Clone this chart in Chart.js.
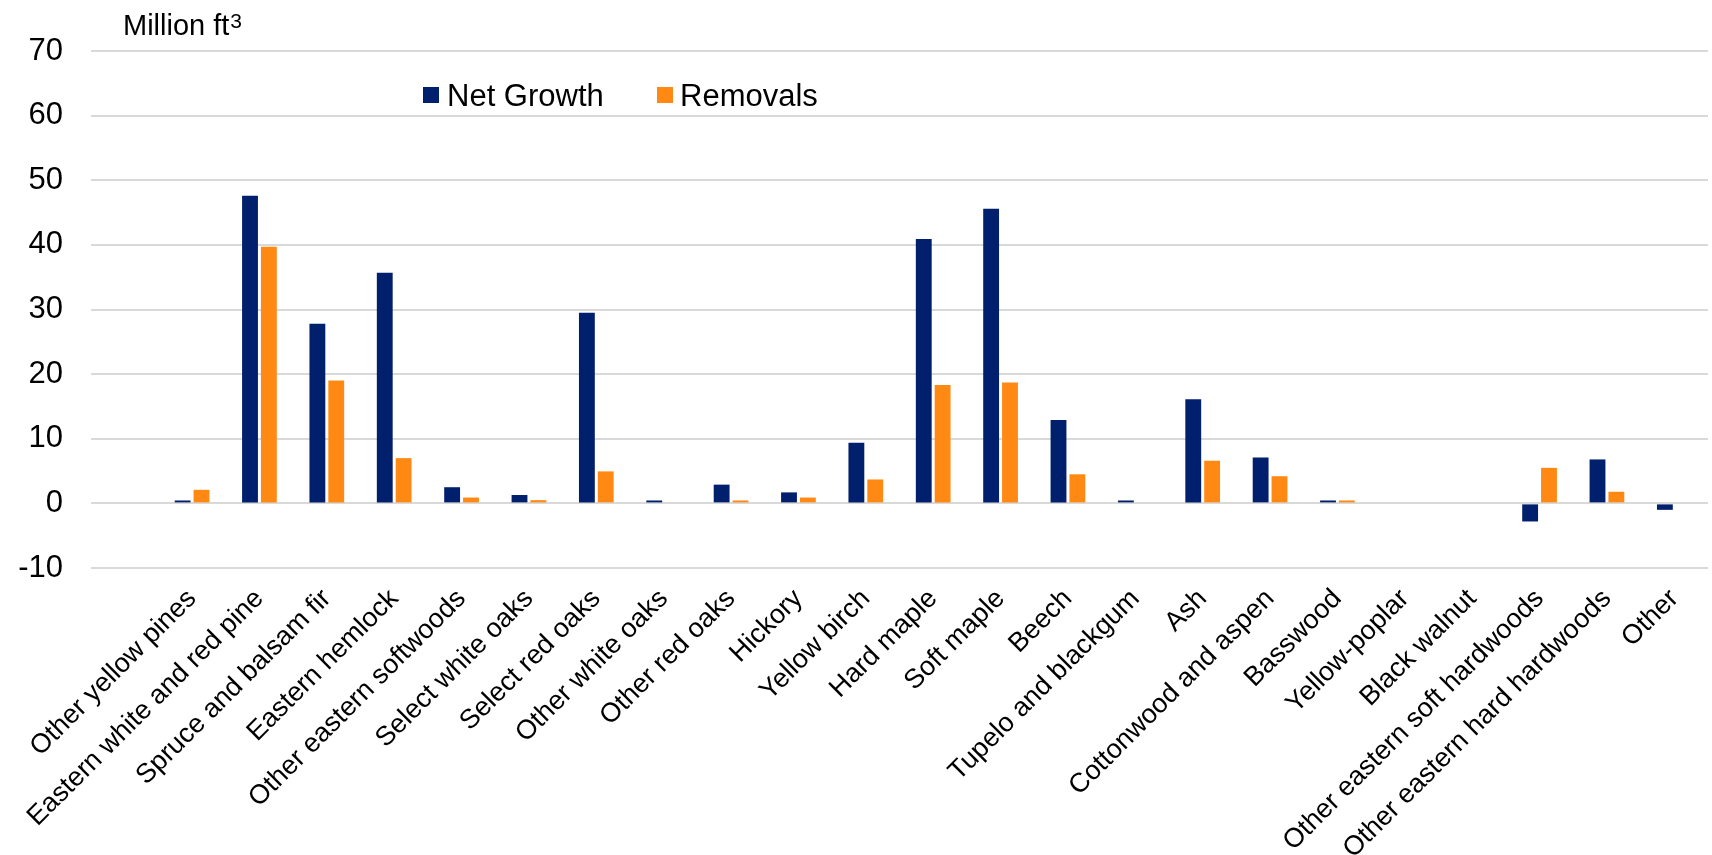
<!DOCTYPE html>
<html>
<head>
<meta charset="utf-8">
<script src="https://cdn.jsdelivr.net/npm/chart.js@4.4.1/dist/chart.umd.min.js"></script>
<style>
  body { margin: 0; background: #fff; }
  #wrap { width: 1712px; height: 855px; }
</style>
</head>
<body>
<div id="wrap"><canvas id="myChart" width="1712" height="855"></canvas></div>
<script>
// first slot is an empty category, as in the original plot
var species = ["", "Other yellow pines", "Eastern white and red pine", "Spruce and balsam fir",
  "Eastern hemlock", "Other eastern softwoods", "Select white oaks", "Select red oaks",
  "Other white oaks", "Other red oaks", "Hickory", "Yellow birch", "Hard maple", "Soft maple",
  "Beech", "Tupelo and blackgum", "Ash", "Cottonwood and aspen", "Basswood", "Yellow-poplar",
  "Black walnut", "Other eastern soft hardwoods", "Other eastern hard hardwoods", "Other"];

var netGrowth = [null, 0.45, 47.6, 27.8, 35.7, 2.5, 1.3, 29.5, 0.45, 2.9, 1.7, 9.4, 40.9, 45.6,
  12.9, 0.45, 16.1, 7.1, 0.45, null, null, -2.8, 6.8, -1.0];
var removals = [null, 2.1, 39.7, 19.0, 7.0, 0.9, 0.5, 4.95, null, 0.45, 0.9, 3.7, 18.3, 18.7,
  4.5, null, 6.6, 4.2, 0.45, null, null, 5.5, 1.8, null];

var yTicks = [-10, 0, 10, 20, 30, 40, 50, 60, 70];
var unitLabel = "Million ft";
var unitPower = "3";

var fontFamily = "'Liberation Sans', Arial, sans-serif";

// unit label and legend drawn on top, like the original
var overlay = {
  id: "overlay",
  afterDraw: function(chart) {
    var c = chart.ctx;
    c.save();
    c.fillStyle = "#000";
    c.textBaseline = "alphabetic";
    c.font = "29px " + fontFamily;
    c.fillText(unitLabel, 123, 35);
    var w = c.measureText(unitLabel).width;
    c.font = "21px " + fontFamily;
    c.fillText(unitPower, 123 + w + 1, 28);

    var items = [[423, 447], [657, 680]];
    chart.data.datasets.forEach(function(ds, i) {
      c.fillStyle = ds.backgroundColor;
      c.fillRect(items[i][0], 87, 16, 16);
      c.fillStyle = "#000";
      c.font = "31px " + fontFamily;
      c.fillText(ds.label, items[i][1], 106);
    });
    c.restore();
  }
};

var ctx = document.getElementById("myChart");
var myChart = new Chart(ctx, {
  type: 'bar',
  data: {
    labels: species,
    datasets: [
      {
        label: "Net Growth",
        data: netGrowth,
        backgroundColor: "#001F6C",
        categoryPercentage: 0.56,
        barPercentage: 0.84
      },
      {
        label: "Removals",
        data: removals,
        backgroundColor: "#FF8912",
        categoryPercentage: 0.56,
        barPercentage: 0.84
      }
    ]
  },
  options: {
    responsive: false,
    animation: false,
    devicePixelRatio: 1,
    layout: { padding: { top: 51, right: 4, left: 0, bottom: 0 } },
    plugins: {
      legend: { display: false },
      title: { display: false },
      tooltip: { enabled: false }
    },
    scales: {
      x: {
        grid: { display: false },
        border: { display: false },
        ticks: {
          autoSkip: false,
          minRotation: 45,
          maxRotation: 45,
          padding: 7,
          color: "#000",
          font: { family: fontFamily, size: 27 }
        },
        afterFit: function(scale) { scale.height = 287; }
      },
      y: {
        min: -10,
        max: 70,
        afterBuildTicks: function(scale) {
          scale.ticks = yTicks.map(function(v) { return { value: v }; });
        },
        grid: { color: "#D9D9D9", lineWidth: 2, drawTicks: false },
        border: { display: false },
        ticks: {
          padding: 28,
          color: "#000",
          font: { family: fontFamily, size: 31 }
        },
        afterFit: function(scale) { scale.width = 91; }
      }
    }
  },
  plugins: [overlay]
});
</script>
</body>
</html>
